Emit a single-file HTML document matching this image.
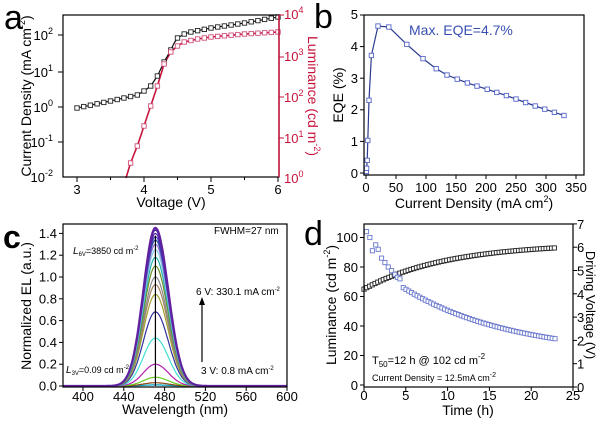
<!DOCTYPE html>
<html><head><meta charset="utf-8"><style>
body{margin:0;background:#fff;overflow:hidden}
svg{display:block;font-family:"Liberation Sans",Arial,sans-serif}
</style></head><body>
<svg id="s" width="600" height="424" viewBox="0 0 600 424" xmlns="http://www.w3.org/2000/svg">
<rect width="600" height="424" fill="#fff"/>
<text x="4" y="29" font-size="34">a</text>
<text x="314" y="28" font-size="34">b</text>
<text x="3" y="248" font-size="32" font-weight="bold">c</text>
<text x="304" y="245" font-size="34">d</text>

<g id="pa"></g>
<rect x="63" y="15" width="216" height="162" fill="none" stroke="#000" stroke-width="1.2"/>
<line x1="279" y1="15" x2="279" y2="177" stroke="#c8143c" stroke-width="1.5"/>
<g font-size="13" text-anchor="middle">
<text x="77" y="194">3</text><text x="144" y="194">4</text><text x="211" y="194">5</text><text x="278" y="194">6</text>
</g>
<text x="171" y="207" font-size="14" text-anchor="middle">Voltage (V)</text>
<g font-size="13" text-anchor="end">
<text x="53" y="40">10<tspan font-size="9" dy="-6">2</tspan></text>
<text x="53" y="77">10<tspan font-size="9" dy="-6">1</tspan></text>
<text x="53" y="112">10<tspan font-size="9" dy="-6">0</tspan></text>
<text x="53" y="147">10<tspan font-size="9" dy="-6">-1</tspan></text>
<text x="53" y="182">10<tspan font-size="9" dy="-6">-2</tspan></text>
</g>
<g font-size="13" fill="#c8143c">
<text x="284" y="19">10<tspan font-size="9" dy="-6">4</tspan></text>
<text x="284" y="61">10<tspan font-size="9" dy="-6">3</tspan></text>
<text x="284" y="102">10<tspan font-size="9" dy="-6">2</tspan></text>
<text x="284" y="143">10<tspan font-size="9" dy="-6">1</tspan></text>
<text x="284" y="183">10<tspan font-size="9" dy="-6">0</tspan></text>
</g>
<text transform="translate(31,96) rotate(-90)" font-size="14" text-anchor="middle">Current Density (mA cm<tspan font-size="9" dy="-6">-2</tspan><tspan dy="6">)</tspan></text>
<text transform="translate(308,96) rotate(90)" font-size="14" fill="#c8143c" text-anchor="middle">Luminance (cd m<tspan font-size="9" dy="-6">-2</tspan><tspan dy="6">)</tspan></text>

<g id="pb"></g>
<rect x="364" y="15" width="220" height="160" fill="none" stroke="#000" stroke-width="1.2"/>
<text x="409" y="35" font-size="14" fill="#3a4fb4">Max. EQE=4.7%</text>
<g font-size="13" text-anchor="end">
<text x="358" y="19">5</text><text x="358" y="51">4</text><text x="358" y="83">3</text><text x="358" y="114">2</text><text x="358" y="146">1</text><text x="358" y="178">0</text>
</g>
<g font-size="13" text-anchor="middle" id="pbx"></g>
<text transform="translate(343,95) rotate(-90)" font-size="14" text-anchor="middle">EQE (%)</text>
<text x="474" y="208" font-size="14" text-anchor="middle">Current Density (mA cm<tspan font-size="9" dy="-6">2</tspan><tspan dy="6">)</tspan></text>

<g id="pc"></g>
<rect x="63" y="224" width="224" height="163" fill="none" stroke="#000" stroke-width="1.2"/>
<g font-size="13" text-anchor="end" id="pcy"></g>
<g font-size="13" text-anchor="middle" id="pcx"></g>
<text transform="translate(31,306) rotate(-90)" font-size="14" text-anchor="middle">Normalized EL (a.u.)</text>
<text x="175" y="414" font-size="14" text-anchor="middle">Wavelength (nm)</text>
<text x="214" y="234" font-size="10">FWHM=27 nm</text>
<text x="73" y="254" font-size="9"><tspan font-style="italic" font-size="10">L</tspan><tspan font-size="6" dy="2">6V</tspan><tspan dy="-2">=3850 cd m</tspan><tspan font-size="6" dy="-4">-2</tspan></text>
<text x="66" y="373" font-size="9"><tspan font-style="italic" font-size="10">L</tspan><tspan font-size="6" dy="2">3V</tspan><tspan dy="-2">=0.09 cd m</tspan><tspan font-size="6" dy="-4">-2</tspan></text>
<text x="196" y="295" font-size="10">6 V: 330.1 mA cm<tspan font-size="6" dy="-4">-2</tspan></text>
<text x="201" y="374" font-size="10">3 V: 0.8 mA cm<tspan font-size="6" dy="-4">-2</tspan></text>
<line x1="202" y1="362" x2="202" y2="304" stroke="#000" stroke-width="1.2"/>
<polygon points="199,305 205,305 202,297" fill="#000"/>

<g id="pd"></g>
<rect x="364" y="224" width="209" height="163" fill="none" stroke="#000" stroke-width="1.2"/>
<g font-size="13" text-anchor="end">
<text x="358" y="242">100</text><text x="358" y="272">80</text><text x="358" y="301">60</text><text x="358" y="331">40</text><text x="358" y="360">20</text><text x="358" y="390">0</text>
</g>
<g font-size="13" id="pdr"></g>
<g font-size="13" text-anchor="middle" id="pdx"></g>
<text transform="translate(336,305) rotate(-90)" font-size="14" text-anchor="middle">Luminance (cd m<tspan font-size="9" dy="-6">-2</tspan><tspan dy="6">)</tspan></text>
<text transform="translate(586,305) rotate(90)" font-size="13" text-anchor="middle">Driving Voltage (V)</text>
<text x="468" y="415" font-size="14" text-anchor="middle">Time (h)</text>
<text x="372" y="364" font-size="11">T<tspan font-size="8" dy="3">50</tspan><tspan dy="-3">=12 h @ 102 cd m</tspan><tspan font-size="8" dy="-5">-2</tspan></text>
<text x="372" y="381" font-size="9">Current Density = 12.5mA cm<tspan font-size="7" dy="-4">-2</tspan></text>
</svg>
<script>
var NS="http://www.w3.org/2000/svg";
function el(p,t,a){var e=document.createElementNS(NS,t);for(var k in a)e.setAttribute(k,a[k]);document.getElementById(p).appendChild(e);return e;}
function interp(tab,x){for(var i=0;i<tab.length-1;i++){if(x<=tab[i+1][0]){var f=(x-tab[i][0])/(tab[i+1][0]-tab[i][0]);return tab[i][1]+f*(tab[i+1][1]-tab[i][1]);}}return tab[tab.length-1][1];}
function sq(p,x,y,c,s){el(p,"rect",{x:x-s,y:y-s,width:2*s,height:2*s,fill:"#fff",stroke:c,"stroke-width":0.9});}
var xa=function(v){return 77+(v-3)*67;};
var bt=[[3,108],[3.5,101],[3.9,95],[4.0,91],[4.1,86],[4.2,76],[4.3,62],[4.4,50],[4.45,43],[4.5,38],[4.6,34],[4.7,32],[5.0,28],[5.5,23],[6.0,17]];
var rt=[[3.73,178],[3.8,163],[3.9,146],[4.0,126],[4.1,106],[4.2,86],[4.3,64],[4.4,52],[4.5,46],[4.6,42],[4.8,39],[5.0,37],[5.5,34],[6.0,32]];
var pb="",pr="";
for(var v=3;v<=6.001;v+=0.02){pb+=(pb?"L":"M")+xa(v).toFixed(1)+","+interp(bt,v).toFixed(1);}
for(var v=3.73;v<=6.001;v+=0.02){pr+=(pr?"L":"M")+xa(v).toFixed(1)+","+interp(rt,v).toFixed(1);}
el("pa","path",{d:pr,fill:"none",stroke:"#c8143c","stroke-width":1.6});
el("pa","path",{d:pb,fill:"none",stroke:"#111","stroke-width":1.2});
for(var i=0;i<=30;i++){var v=3+i*0.1;sq("pa",xa(v),interp(bt,v),"#222",2.2);}
for(var i=8;i<=30;i++){var v=3+i*0.1;sq("pa",xa(v),interp(rt,v),"#d0507a",2.2);}
[3,3.5,4,4.5,5,5.5,6].forEach(function(v){el("pa","line",{x1:xa(v),y1:177,x2:xa(v),y2:v%1?180:182,stroke:"#000"});});
[35,72,107,142].forEach(function(y){el("pa","line",{x1:58,y1:y,x2:63,y2:y,stroke:"#000"});});
[15,57,97,138].forEach(function(y){el("pa","line",{x1:279,y1:y,x2:284,y2:y,stroke:"#c8143c"});});
var xb=function(c){return 366+c*0.6;}, yb=function(e){return 173-e*31.6;};
var bd=[[0,0],[0.5,0.05],[1,0.15],[2,0.4],[3,1.03],[5,2.3],[9,3.72],[20,4.65],[38,4.62],[68,4.07],[95,3.62],[117,3.3],[135,3.1],[152,2.97],[169,2.85],[185,2.75],[202,2.65],[218,2.55],[234,2.45],[250,2.34],[266,2.23],[282,2.12],[298,2.02],[314,1.92],[330,1.82]];
el("pb","path",{d:"M"+bd.map(function(p){return xb(p[0]).toFixed(1)+","+yb(p[1]).toFixed(1);}).join("L"),fill:"none",stroke:"#2b3a8c","stroke-width":1.2});
bd.forEach(function(p){sq("pb",xb(p[0]),yb(p[1]),"#5566c8",2.2);});
for(var c=0;c<=350;c+=50){el("pb","line",{x1:xb(c),y1:175,x2:xb(c),y2:179,stroke:"#000"});var t=el("pbx","text",{x:xb(c),y:192});t.textContent=c;}
for(var e=0;e<=5;e++){el("pb","line",{x1:360,y1:yb(e),x2:364,y2:yb(e),stroke:"#000"});}
var xc=function(w){return 83+(w-400)*1.02;}, yc=function(v){return 386-v*109;};
var hs=[0.01,0.03,0.08,0.2,0.44,0.68,0.84,0.93,1.0,1.1,1.18,1.25,1.3,1.34,1.37,1.4,1.43,1.45];
var cols=["#00a0c0","#8b4513","#66cc22","#b020b0","#40e0d0","#3030a0","#a0a030","#a08060","#888888","#6b8e23","#20b2aa","#87ceeb","#9370db","#2f4f8f","#4040c0","#5020a0","#3a2a9a","#6020a0"];
hs.forEach(function(h,i){var d="";for(var w=380;w<=600;w+=1){var z=(w-471);var s=z<0?11.8:12.6;var v=h*Math.exp(-z*z/(2*s*s));d+=(d?"L":"M")+xc(w).toFixed(1)+","+yc(v).toFixed(1);}
el("pc","path",{d:d,fill:"none",stroke:cols[i],"stroke-width":i==hs.length-1?2.2:1.2});});
el("pc","line",{x1:xc(471),y1:yc(0),x2:xc(471),y2:yc(1.38),stroke:"#000","stroke-width":1.2});
for(var k=0;k<=14;k+=2){var y=yc(k/10);el("pc","line",{x1:59,y1:y,x2:63,y2:y,stroke:"#000"});var t=el("pcy","text",{x:57,y:y+4.5});t.textContent=(k/10).toFixed(1);}
for(var w=400;w<=600;w+=40){el("pc","line",{x1:xc(w),y1:387,x2:xc(w),y2:391,stroke:"#000"});var t=el("pcx","text",{x:xc(w),y:401});t.textContent=w;}
var xd=function(t){return 364+t*8.36;}, yl=function(L){return 385-L*1.475;}, yv=function(V){return 387-V*23.3;};
for(var t=0;t<=23.01;t+=0.33){var V=4.2+1.97*(1-Math.exp(-t/10));sq("pd",xd(t),yv(V),"#222",2.1);}
var early=[[0.3,104],[0.7,100],[1.0,91],[1.4,95],[1.7,92],[2.1,86],[2.5,83],[2.9,80],[3.3,77.5],[3.7,75],[4.0,73],[4.3,72]];
early.forEach(function(p){sq("pd",xd(p[0]),yl(p[1]),"#6a78cc",2.1);});
for(var t=4.7;t<=23.01;t+=0.33){var L=20+46*Math.exp(-(t-4.7)/13);sq("pd",xd(t),yl(L),"#6a78cc",2.1);}
for(var t=0;t<=25;t+=5){el("pd","line",{x1:xd(t),y1:387,x2:xd(t),y2:391,stroke:"#000"});var tx=el("pdx","text",{x:xd(t),y:400});tx.textContent=t;}
for(var L=0;L<=100;L+=20){el("pd","line",{x1:360,y1:yl(L),x2:364,y2:yl(L),stroke:"#000"});}
for(var V=0;V<=7;V++){el("pd","line",{x1:573,y1:yv(V),x2:577,y2:yv(V),stroke:"#000"});var tx=el("pdr","text",{x:577,y:yv(V)+5});tx.textContent=V;}
</script>
</body></html>
